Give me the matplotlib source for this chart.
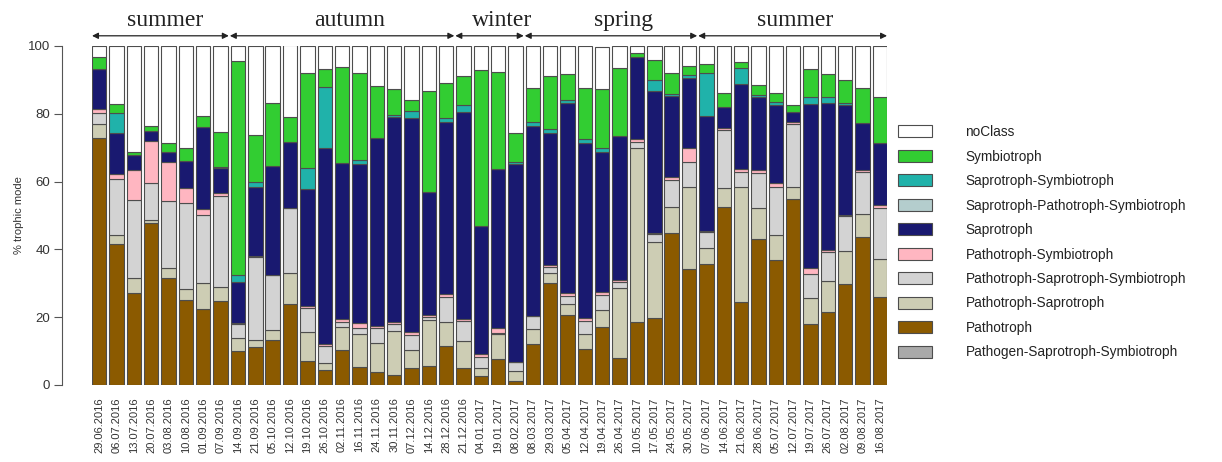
import matplotlib
matplotlib.use("Agg")
import numpy as np
import matplotlib.pyplot as plt

plt.rcParams['font.family'] = ['Liberation Sans', 'DejaVu Sans']

dates = ["29.06.2016", "06.07.2016", "13.07.2016", "20.07.2016", "03.08.2016",
         "10.08.2016", "01.09.2016", "07.09.2016", "14.09.2016", "21.09.2016",
         "05.10.2016", "12.10.2016", "19.10.2016", "26.10.2016", "02.11.2016",
         "16.11.2016", "24.11.2016", "30.11.2016", "07.12.2016", "14.12.2016",
         "28.12.2016", "21.12.2016", "04.01.2017", "19.01.2017", "08.02.2017",
         "08.03.2017", "29.03.2017", "05.04.2017", "12.04.2017", "19.04.2017",
         "26.04.2017", "10.05.2017", "17.05.2017", "24.05.2017", "30.05.2017",
         "07.06.2017", "14.06.2017", "21.06.2017", "28.06.2017", "05.07.2017",
         "12.07.2017", "19.07.2017", "26.07.2017", "02.08.2017", "09.08.2017",
         "16.08.2017"]

# percentages per trophic mode, bottom of the stack first
pathogen_sapro_symbio = [0.0] * 46
pathotroph = [72.8, 41.5, 27.0, 47.9, 31.7, 25.1, 22.3, 24.8, 10.1, 11.1, 13.3, 23.8,
              7.1, 4.4, 10.3, 5.4, 3.7, 2.9, 4.9, 5.6, 11.5, 4.9, 2.7, 7.6, 1.3, 12.0,
              30.2, 20.6, 10.5, 17.0, 7.9, 18.7, 19.9, 44.7, 34.1, 35.7, 52.4, 24.6,
              43.0, 36.9, 54.8, 17.9, 21.4, 29.8, 43.6, 26.1]
patho_sapro = [4.1, 2.7, 4.5, 0.8, 2.7, 3.1, 7.7, 4.0, 3.7, 2.2, 2.9, 9.1, 8.6, 2.0,
               6.7, 9.6, 8.8, 13.0, 5.4, 13.6, 7.2, 8.1, 2.4, 7.3, 2.8, 4.4, 2.7, 3.3,
               4.5, 5.1, 20.8, 51.1, 22.2, 7.9, 24.4, 4.6, 5.6, 33.9, 9.1, 7.3, 3.7,
               7.7, 9.3, 9.7, 6.8, 11.1]
patho_sapro_symbio = [3.4, 16.5, 23.1, 11.0, 19.9, 25.4, 20.1, 27.0, 4.2, 24.4, 16.1,
                      19.2, 6.9, 5.1, 1.7, 1.7, 4.2, 2.1, 4.3, 1.0, 7.2, 5.9, 3.3, 0.5,
                      2.8, 4.0, 2.0, 2.4, 3.9, 4.3, 1.6, 2.0, 2.3, 7.9, 7.4, 4.7, 17.2,
                      4.2, 10.5, 14.3, 18.5, 7.1, 8.4, 10.2, 12.5, 15.1]
patho_symbio = [1.1, 1.4, 8.8, 12.3, 11.6, 4.6, 1.7, 0.7, 0.4, 0.4, 0.0, 0.0, 0.7, 0.6,
                0.7, 1.5, 0.8, 0.5, 1.1, 0.4, 0.9, 0.5, 0.7, 1.3, 0.0, 0.0, 0.5, 0.9,
                0.8, 1.0, 0.7, 0.8, 0.5, 0.8, 3.9, 0.5, 0.5, 0.9, 0.8, 1.2, 0.7, 1.7,
                0.7, 0.4, 0.5, 0.7]
saprotroph = [11.7, 12.3, 4.4, 2.9, 2.9, 8.0, 24.4, 7.4, 12.1, 20.4, 32.3, 19.7, 34.4,
              57.7, 46.0, 46.9, 55.3, 60.5, 63.0, 36.2, 50.9, 61.2, 37.7, 46.9, 58.2,
              56.0, 39.0, 56.1, 51.8, 41.3, 42.5, 24.2, 41.8, 23.8, 20.7, 33.7, 6.4,
              25.1, 21.5, 22.9, 2.9, 48.5, 43.3, 32.6, 13.8, 18.5]
sapro_patho_symbio = [0.0] * 46
sapro_symbio = [0.0, 5.7, 0.0, 0.0, 0.0, 0.0, 0.0, 0.5, 1.8, 1.5, 0.0, 0.0, 6.4, 18.0,
                0.0, 1.3, 0.0, 0.5, 2.1, 0.0, 1.0, 2.0, 0.0, 0.0, 0.8, 1.3, 1.0, 0.8,
                1.0, 1.2, 0.0, 0.0, 3.3, 0.8, 1.0, 12.7, 0.0, 4.7, 0.6, 1.0, 0.0, 2.0,
                1.7, 0.6, 0.0, 0.0]
symbiotroph = [3.6, 2.8, 1.0, 1.5, 2.5, 3.6, 3.2, 10.3, 63.3, 13.7, 18.7, 7.2, 27.8,
               5.4, 28.5, 25.7, 15.5, 7.8, 3.3, 30.0, 10.3, 8.6, 46.0, 28.8, 8.5, 10.0,
               15.6, 7.5, 15.0, 17.4, 20.1, 1.0, 5.9, 6.1, 2.5, 2.8, 4.1, 2.0, 3.0,
               2.6, 2.0, 8.3, 7.0, 6.6, 10.3, 13.3]
no_class = [3.3, 17.1, 31.2, 23.6, 28.7, 30.2, 20.6, 25.3, 4.4, 26.3, 16.7, 21.2, 8.1,
            6.8, 6.1, 7.9, 11.7, 12.7, 15.9, 13.2, 11.0, 8.8, 7.3, 7.6, 25.6, 12.3,
            9.0, 8.4, 12.5, 12.5, 6.4, 2.2, 4.1, 8.1, 6.1, 5.3, 13.8, 4.6, 11.5, 13.8,
            17.4, 6.8, 8.3, 10.0, 12.5, 15.1]

modes = ["Pathogen-Saprotroph-Symbiotroph", "Pathotroph", "Pathotroph-Saprotroph",
         "Pathotroph-Saprotroph-Symbiotroph", "Pathotroph-Symbiotroph", "Saprotroph",
         "Saprotroph-Pathotroph-Symbiotroph", "Saprotroph-Symbiotroph", "Symbiotroph",
         "noClass"]
series = [pathogen_sapro_symbio, pathotroph, patho_sapro, patho_sapro_symbio,
          patho_symbio, saprotroph, sapro_patho_symbio, sapro_symbio, symbiotroph,
          no_class]
colors = ["#a9a9a9", "#8b5a00", "#cdcdb4", "#d3d3d3", "#ffb6c1", "#191970",
          "#b4cdcd", "#20b2aa", "#32cd32", "#ffffff"]

seasons = ["summer", "autumn", "winter", "spring", "summer"]
season_first = [0, 8, 21, 25, 35]
season_last = [7, 20, 24, 34, 45]
season_label_x = [3.8, 14.45, 23.25, 30.2, 40.1]

fig = plt.figure(figsize=(12.22, 4.62), dpi=100)
ax = fig.add_axes([0.0753, 0.1667, 0.6506, 0.7338])

x = np.arange(len(dates))
bottom = np.zeros(len(dates))
handles = []
for name, vals, col in zip(modes, series, colors):
    vals = np.array(vals)
    b = ax.bar(x, vals, bottom=bottom, width=0.83, color=col,
               edgecolor="#4d4d4d", linewidth=0.8, label=name)
    handles.append(b)
    bottom += vals

ax.set_xlim(-0.415, len(dates) - 1 + 0.415)
ax.set_ylim(0, 100)

for s in ["top", "right", "bottom"]:
    ax.spines[s].set_visible(False)
ax.spines["left"].set_position(("outward", 21.6))
ax.spines["left"].set_bounds(0, 100)
ax.spines["left"].set_color("#555555")
ax.set_yticks([0, 20, 40, 60, 80, 100])
ax.tick_params(axis="y", length=5.5, color="#555555", labelsize=9.5,
               labelcolor="#333333", pad=3)
ax.set_xticks(x)
ax.set_xticklabels(dates, rotation=90, fontsize=8, color="#333333")
ax.tick_params(axis="x", length=0, pad=9)
ax.set_ylabel("% trophic mode", fontsize=8, color="#333333", labelpad=3)

# season arrows and names above the bars
for name, first, last, lx in zip(seasons, season_first, season_last, season_label_x):
    x0 = max(first - 0.47, -0.415)
    x1 = min(last + 0.47, len(dates) - 1 + 0.415)
    ax.annotate("", xy=(x1, 103), xytext=(x0, 103), annotation_clip=False,
                arrowprops=dict(arrowstyle="<|-|>", color="#222222", lw=0.9,
                                mutation_scale=9, shrinkA=0, shrinkB=0))
    ax.text(lx, 107.5, name, ha="center", va="center", fontsize=17,
            family=["Liberation Serif", "DejaVu Serif"], color="#222222",
            clip_on=False)

leg = ax.legend(handles[::-1], modes[::-1], loc="upper left",
                bbox_to_anchor=(0.7305, 0.741), bbox_transform=fig.transFigure,
                frameon=False, fontsize=9.8, handlelength=2.5, handleheight=0.97,
                handletextpad=2.45, labelspacing=0.77, borderaxespad=0)
for t in leg.get_texts():
    t.set_color("#222222")

fig.savefig("out.png", dpi=100)
